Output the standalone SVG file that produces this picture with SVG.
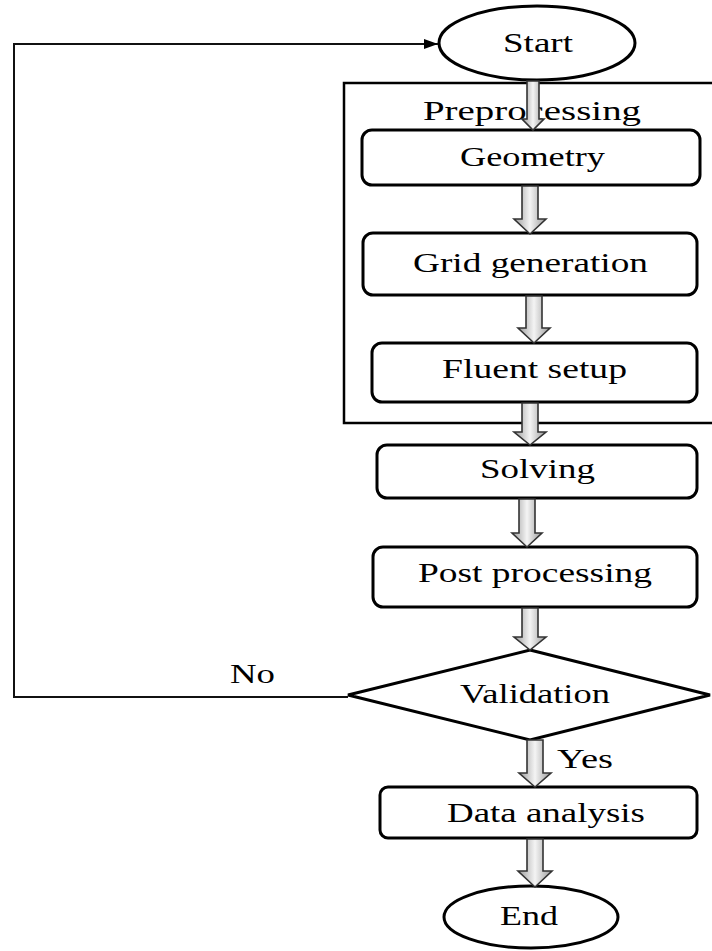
<svg xmlns="http://www.w3.org/2000/svg" width="712" height="951" viewBox="0 0 712 951">
<style>
.box{fill:#fff;stroke:#000;stroke-width:3}
.line{fill:none;stroke:#111;stroke-width:2}
.blk{fill:url(#g);stroke:#333;stroke-width:1.6;stroke-linejoin:miter}
text{font-family:"Liberation Serif","Times New Roman",serif;font-size:27px;fill:#000}
</style>
<defs>
<linearGradient id="g" x1="0" y1="0" x2="1" y2="0">
<stop offset="0" stop-color="#9a9a9a"/>
<stop offset="0.5" stop-color="#f4f4f4"/>
<stop offset="1" stop-color="#9a9a9a"/>
</linearGradient>
<marker id="ah" markerWidth="14" markerHeight="10" refX="14" refY="5" orient="auto" markerUnits="userSpaceOnUse">
<path d="M0,0 L14,5 L0,10 Z" fill="#000"/>
</marker>
</defs>
<rect width="712" height="951" fill="#fff"/>

<g id="preprocessing">
<rect x="344" y="83" width="372" height="340" fill="none" stroke="#000" stroke-width="2.5"/>
<text x="423" y="120" textLength="218" lengthAdjust="spacingAndGlyphs">Preprocessing</text>
</g>

<g id="start">
<ellipse cx="537" cy="43" rx="98" ry="37" class="box"/>
<text x="503" y="52" textLength="70" lengthAdjust="spacingAndGlyphs">Start</text>
</g>
<g id="geometry">
<rect x="362" y="130" width="338" height="55" rx="10" class="box"/>
<text x="460" y="166" textLength="145" lengthAdjust="spacingAndGlyphs">Geometry</text>
</g>
<g id="grid">
<rect x="363" y="233" width="334" height="62" rx="10" class="box"/>
<text x="413" y="272" textLength="235" lengthAdjust="spacingAndGlyphs">Grid generation</text>
</g>
<g id="fluent">
<rect x="372" y="343" width="325" height="59" rx="10" class="box"/>
<text x="442" y="378" textLength="185" lengthAdjust="spacingAndGlyphs">Fluent setup</text>
</g>
<g id="solving">
<rect x="377" y="445" width="320" height="53" rx="10" class="box"/>
<text x="480" y="478" textLength="115" lengthAdjust="spacingAndGlyphs">Solving</text>
</g>
<g id="post">
<rect x="373" y="547" width="324" height="60" rx="10" class="box"/>
<text x="418" y="582" textLength="234" lengthAdjust="spacingAndGlyphs">Post processing</text>
</g>
<g id="validation">
<polygon points="530,650 710,695 530,740 348,695" class="box" stroke-linejoin="miter"/>
<text x="460" y="703" textLength="150" lengthAdjust="spacingAndGlyphs">Validation</text>
</g>
<g id="data">
<rect x="380" y="787" width="317" height="51" rx="8" class="box"/>
<text x="447" y="822" textLength="198" lengthAdjust="spacingAndGlyphs">Data analysis</text>
</g>
<g id="end">
<ellipse cx="531" cy="917" rx="87" ry="31" class="box"/>
<text x="500" y="925" textLength="58" lengthAdjust="spacingAndGlyphs">End</text>
</g>

<g id="connectors">
<path d="M348,697 L14,697 L14,44 L438,44" class="line" marker-end="url(#ah)"/>
<text x="230" y="683" textLength="45" lengthAdjust="spacingAndGlyphs">No</text>
<text x="557" y="768" textLength="56" lengthAdjust="spacingAndGlyphs">Yes</text>
<path class="blk" d="M527,81 L527,119 L522,119 L533,130 L544,119 L539,119 L539,81 Z"/>
<path class="blk" d="M522,186 L522,219 L514,219 L530,234 L546,219 L538,219 L538,186 Z"/>
<path class="blk" d="M526,296 L526,328 L518,328 L534,343 L550,328 L542,328 L542,296 Z"/>
<path class="blk" d="M522,403 L522,432 L514,432 L530,445 L546,432 L538,432 L538,403 Z"/>
<path class="blk" d="M519,499 L519,533 L512,533 L527,547 L542,533 L535,533 L535,499 Z"/>
<path class="blk" d="M522,608 L522,637 L514,637 L530,650 L546,637 L538,637 L538,608 Z"/>
<path class="blk" d="M527,740 L527,773 L519,773 L535,787 L551,773 L543,773 L543,740 Z"/>
<path class="blk" d="M527,839 L527,871 L518,871 L535,887 L552,871 L543,871 L543,839 Z"/>
</g>
</svg>
